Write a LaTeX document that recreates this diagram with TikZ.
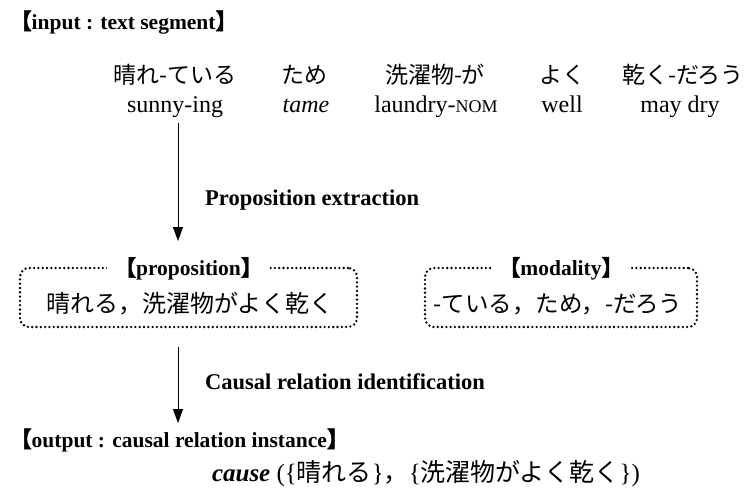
\documentclass[tikz,border=0pt]{standalone}
\usepackage{fontspec}
\setmainfont{Liberation Serif}
\newfontfamily\jp{Noto Sans CJK JP}
\newfontfamily\jpb[FakeBold=2]{Noto Sans CJK JP}
\usetikzlibrary{arrows.meta}
\tikzset{
  jpword/.style={font=\jp\fontsize{23}{26}\selectfont, inner sep=0pt, anchor=base},
  enword/.style={font=\fontsize{24}{28}\selectfont, inner sep=0pt, anchor=base},
  hdr/.style={font=\fontsize{21.5}{24}\selectfont\bfseries, inner sep=0pt, anchor=base west},
  lbl/.style={font=\fontsize{22.5}{24}\selectfont\bfseries, inner sep=0pt, anchor=base west},
  flow/.style={line width=0.9pt, -{Triangle[width=10pt,length=14pt]}},
  dotbox/.style={draw, line width=2.6pt, dash pattern=on 0pt off 4.3pt, line cap=round, rounded corners=9pt, inner sep=0pt},
  boxtitle/.style={font=\fontsize{21.5}{24}\selectfont\bfseries, fill=white, inner xsep=8pt, inner ysep=2pt},
  boxtext/.style={font=\jp\fontsize{24}{28}\selectfont, inner sep=0pt, anchor=base},
}
\newcommand{\lbk}{{\jpb 【}}
\newcommand{\rbk}{{\jpb 】}}
\begin{document}
\begin{tikzpicture}[x=1pt,y=-1pt]
\useasboundingbox (0,0) rectangle (744,498);
% header
\node[hdr] (hin) at (10,29) {\lbk input : text segment\rbk};
% Japanese words
\node[jpword] (j1) at (175,83) {晴れ-ている};
\node[jpword] (j2) at (304,83) {ため};
\node[jpword] (j3) at (435,83) {洗濯物-が};
\node[jpword] (j4) at (562,83) {よく};
\node[jpword] (j5) at (683,83) {乾く-だろう};
% English glosses
\node[enword] (e1) at (175,112) {sunny-ing};
\node[enword] (e2) at (306,112) {\itshape tame};
\node[enword] (e3) at (436,112) {laundry-{\fontsize{18}{20}\selectfont NOM}};
\node[enword] (e4) at (562,112) {well};
\node[enword] (e5) at (680,112) {may dry};
% arrow 1
\coordinate (a1s) at (178,123);
\coordinate (a1e) at (178,241);
\draw[flow] (a1s) -- (a1e);
\node[lbl] (l1) at (205,205) {Proposition extraction};
% proposition box
\node[dotbox, minimum width=337pt, minimum height=59pt] (pbox) at (188.5,297.5) {};
\node[boxtitle] (ptitle) at ([yshift=-2pt]pbox.north) {\lbk proposition\rbk};
\node[boxtext] (ptext) at (190,312) {晴れる，洗濯物がよく乾く};
% modality box
\node[dotbox, minimum width=272pt, minimum height=59pt] (mbox) at (561,297.5) {};
\node[boxtitle] (mtitle) at ([yshift=-2pt]mbox.north) {\lbk modality\rbk};
\node[boxtext, font=\jp\fontsize{23.5}{28}\selectfont] (mtext) at (558,312) {-ている，ため，-だろう};
% arrow 2
\coordinate (a2s) at (178,347);
\coordinate (a2e) at (178,423);
\draw[flow] (a2s) -- (a2e);
\node[lbl] (l2) at (205,389) {Causal relation identification};
% output
\node[hdr] (hout) at (10,447) {\lbk output : causal relation instance\rbk};
\node[inner sep=0pt, anchor=base, font=\fontsize{25}{28}\selectfont] (res) at (426,481) {{\bfseries\itshape cause} ({\{}{\jp 晴れる}{\}}{\jp ，}{\{}{\jp 洗濯物がよく乾く}{\}})};
\end{tikzpicture}
\end{document}
